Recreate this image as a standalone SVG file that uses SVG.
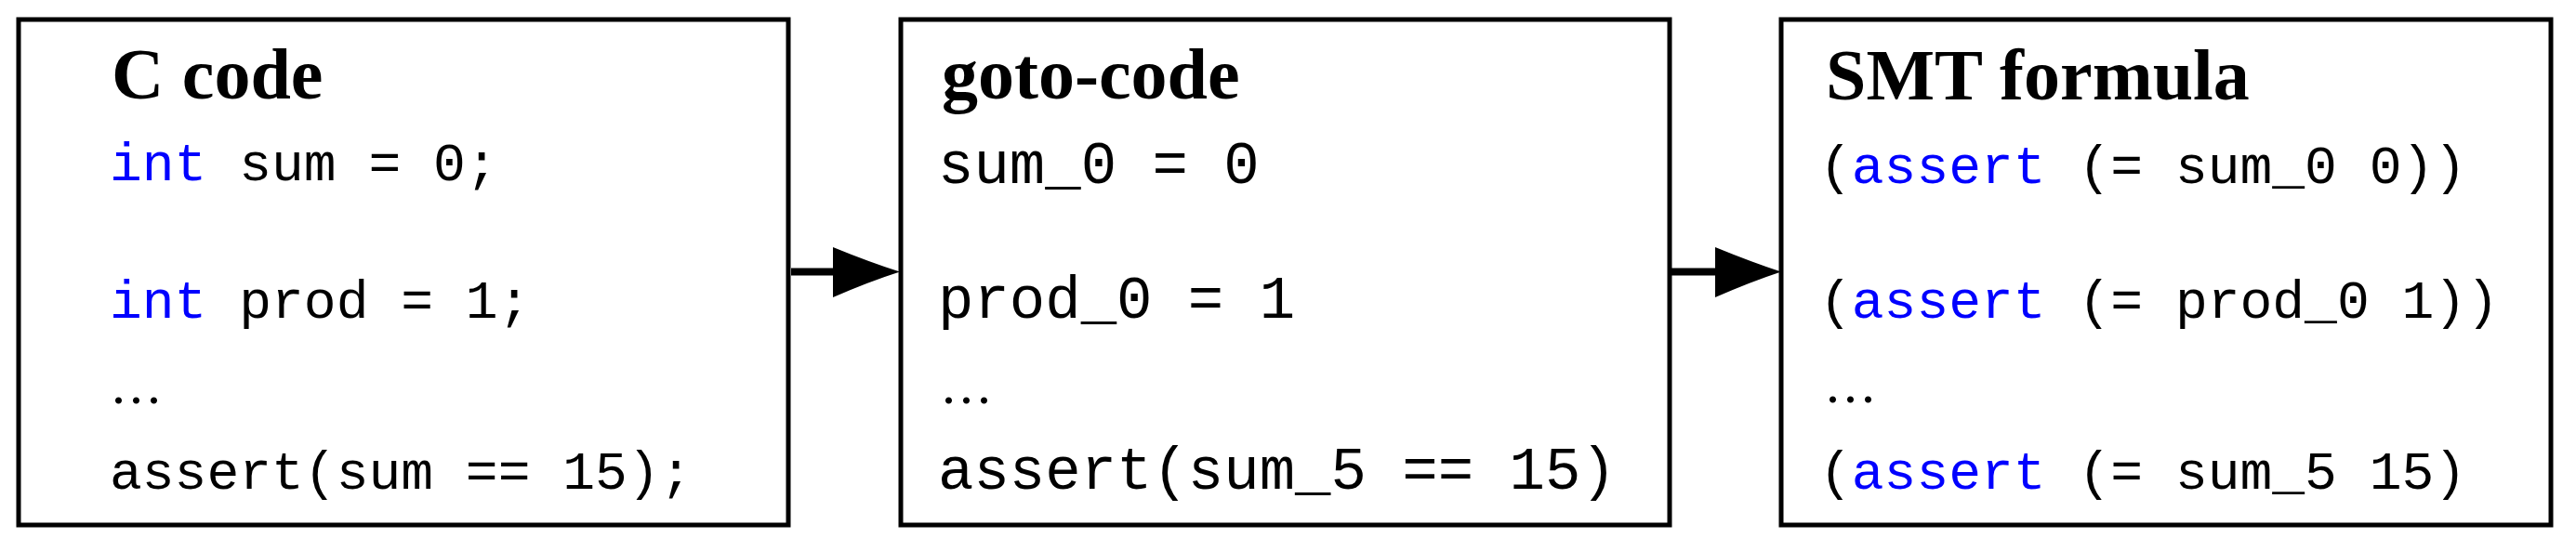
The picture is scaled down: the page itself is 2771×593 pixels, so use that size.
<svg xmlns="http://www.w3.org/2000/svg" width="2771" height="593" viewBox="0 0 2771 593">
<style>
.box{fill:#fff;stroke:#000;stroke-width:5}
.title{font-family:"Liberation Serif","Times New Roman",serif;font-weight:bold;font-size:78px;fill:#000}
.code{font-family:"Liberation Mono","Courier New",monospace;font-size:58px;fill:#000}
.code2{font-family:"Liberation Mono","Courier New",monospace;font-size:64px;fill:#000}
.dots{font-family:"Liberation Serif","Times New Roman",serif;font-size:60px;letter-spacing:4px;fill:#000}
.kw{fill:#0000ff}
.conn{stroke:#000;stroke-width:8;fill:none}
.head{fill:#000;stroke:none}
</style>
<rect width="2771" height="593" fill="#fff"/>
<g id="node-c-code">
<rect class="box" x="20" y="21" width="828" height="544"/>
<text class="title" x="120" y="106">C code</text>
<text class="code" x="118" y="194"><tspan class="kw">int</tspan> sum = 0;</text>
<text class="code" x="118" y="342"><tspan class="kw">int</tspan> prod = 1;</text>
<text class="dots" x="120" y="434">...</text>
<text class="code" x="118" y="526">assert(sum == 15);</text>
</g>
<g id="node-goto-code">
<rect class="box" x="969" y="21" width="827" height="544"/>
<text class="title" x="1013" y="106">goto-code</text>
<text class="code2" x="1009" y="197">sum_0 = 0</text>
<text class="code2" x="1009" y="342">prod_0 = 1</text>
<text class="dots" x="1013" y="434">...</text>
<text class="code2" x="1009" y="526">assert(sum_5 == 15)</text>
</g>
<g id="node-smt-formula">
<rect class="box" x="1916" y="21" width="828" height="544"/>
<text class="title" x="1964" y="107">SMT formula</text>
<text class="code" x="1957" y="197">(<tspan class="kw">assert</tspan> (= sum_0 0))</text>
<text class="code" x="1957" y="342">(<tspan class="kw">assert</tspan> (= prod_0 1))</text>
<text class="dots" x="1964" y="433">...</text>
<text class="code" x="1957" y="526">(<tspan class="kw">assert</tspan> (= sum_5 15)</text>
</g>
<g id="connectors">
<line class="conn" x1="851" y1="292.5" x2="900" y2="292.5"/>
<path class="head" d="M896,266 Q935,282 968,292.5 Q935,303 896,320 Z"/>
<line class="conn" x1="1798" y1="292.5" x2="1849" y2="292.5"/>
<path class="head" d="M1845,266 Q1884,282 1916,292.5 Q1884,303 1845,320 Z"/>
</g>
</svg>
